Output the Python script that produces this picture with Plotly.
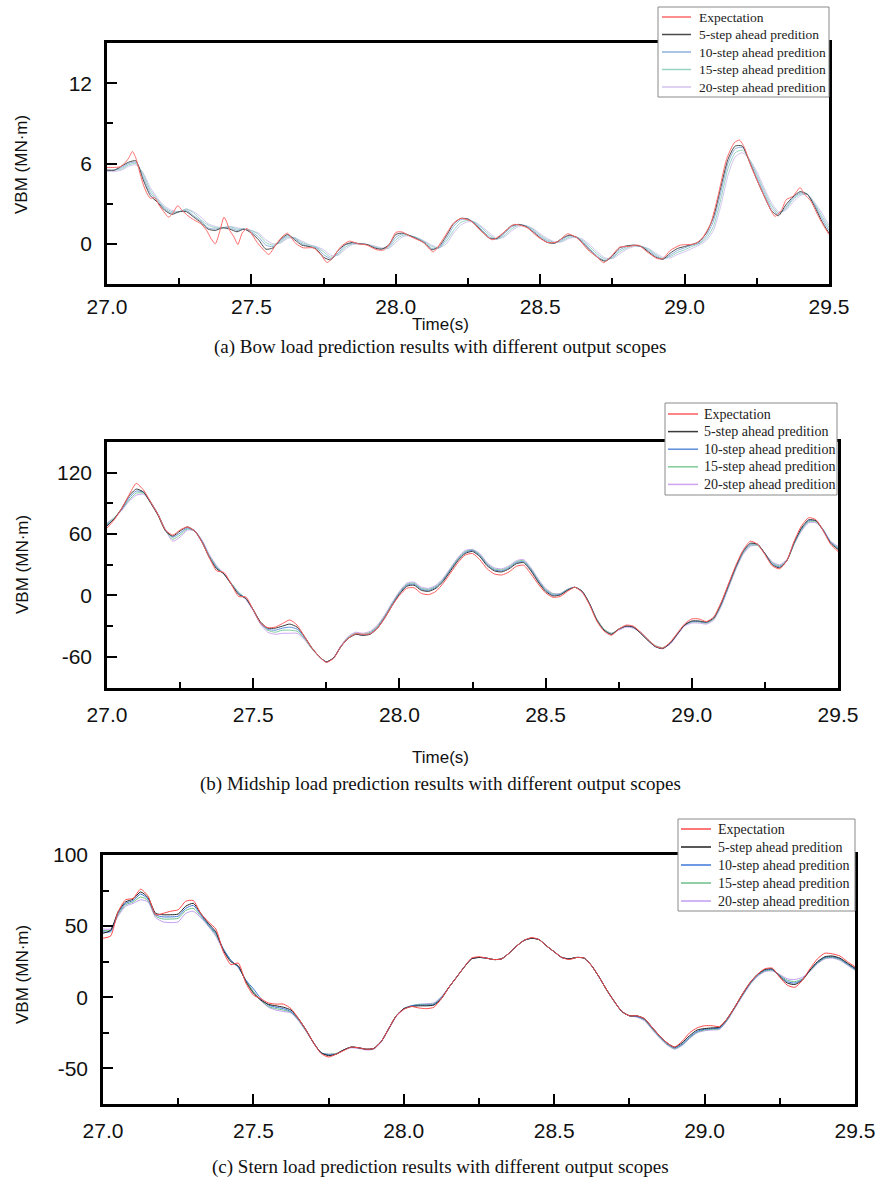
import plotly.graph_objects as go

# ---------------------------------------------------------------------------
# Sample times (s) for the prediction series, 27.0 .. 29.5 every 0.025 s
# ---------------------------------------------------------------------------
t_grid = [round(27.0 + 0.025 * i, 3) for i in range(101)]

series_names = ["Expectation", "5-step ahead predition", "10-step ahead predition",
                "15-step ahead predition", "20-step ahead predition"]

# y tick labels of the three panels (plain hyphen for negatives)
bow_ticks = [0, 6, 12]
mid_ticks = [-60, 0, 60, 120]
stern_ticks = [-50, 0, 50, 100]

# ---------------------------------------------------------------------------
# (a) Bow VBM (MN·m)
# ---------------------------------------------------------------------------
t_bow_exp = [27.000, 27.020, 27.045, 27.060, 27.075, 27.088, 27.100, 27.115, 27.126, 27.140,
             27.150, 27.165, 27.180, 27.200, 27.213, 27.225, 27.245, 27.260, 27.280, 27.300,
             27.325, 27.345, 27.360, 27.375, 27.390, 27.405, 27.415, 27.425, 27.440, 27.453,
             27.468, 27.485, 27.505, 27.520, 27.540, 27.560, 27.575, 27.590, 27.610, 27.625,
             27.640, 27.655, 27.680, 27.715, 27.740, 27.762, 27.785, 27.810, 27.840, 27.870,
             27.900, 27.935, 27.960, 27.980, 28.000, 28.020, 28.050, 28.095, 28.130, 28.165,
             28.200, 28.225, 28.260, 28.295, 28.335, 28.365, 28.410, 28.455, 28.490, 28.525,
             28.560, 28.595, 28.630, 28.665, 28.695, 28.720, 28.745, 28.775, 28.805, 28.840,
             28.870, 28.905, 28.925, 28.950, 28.985, 29.035, 29.060, 29.090, 29.115, 29.145,
             29.172, 29.190, 29.207, 29.230, 29.260, 29.290, 29.313, 29.335, 29.352, 29.375,
             29.400, 29.415, 29.437, 29.460, 29.480, 29.500]
bow_exp = [5.7, 5.7, 5.75, 6.0, 6.4, 6.9, 6.4, 5.2, 4.4, 3.7,
           3.4, 3.45, 2.9, 2.3, 2.0, 2.2, 2.85, 2.5, 2.1, 1.8,
           1.5, 1.0, 0.4, 0.0, 0.9, 2.0, 1.6, 1.0, 0.5, -0.05,
           0.8, 1.15, 0.6, 0.1, -0.4, -0.8, -0.4, 0.1, 0.6, 0.8,
           0.4, 0.0, -0.3, -0.3, -0.8, -1.4, -0.95, -0.2, 0.2, 0.0,
           -0.1, -0.45, -0.45, 0.05, 0.85, 0.9, 0.55, 0.1, -0.6, 0.4,
           1.55, 1.9, 1.7, 0.95, 0.3, 0.7, 1.45, 1.2, 0.55, 0.1,
           0.15, 0.75, 0.4, -0.45, -0.95, -1.4, -0.95, -0.25, -0.2, -0.1,
           -0.6, -1.1, -1.1, -0.5, -0.1, 0.0, 0.4, 1.5, 3.5, 6.3,
           7.55, 7.75, 7.2, 5.8, 4.3, 2.9, 2.05, 2.5, 3.3, 3.55,
           4.2, 3.7, 3.2, 2.2, 1.4, 0.7]
bow_5 = [5.5, 5.5, 5.8, 6.1, 6.2, 4.8, 3.6, 3.1, 2.5, 2.2,
         2.4, 2.4, 2.0, 1.6, 1.1, 1.0, 1.2, 1.1, 0.9, 1.1,
         0.8, 0.3, -0.4, -0.3, 0.3, 0.7, 0.3, -0.1, -0.2, -0.4,
         -1.0, -1.2, -0.5, -0.05, 0.1, 0.0, -0.05, -0.3, -0.4, -0.1,
         0.7, 0.8, 0.6, 0.35, 0.05, -0.45, -0.2, 0.6, 1.5, 1.9,
         1.85, 1.45, 0.9, 0.4, 0.4, 0.85, 1.35, 1.45, 1.3, 0.9,
         0.45, 0.1, 0.05, 0.4, 0.65, 0.5, 0.0, -0.55, -1.05, -1.3,
         -0.9, -0.3, -0.15, -0.1, -0.2, -0.6, -1.0, -1.15, -0.7, -0.35,
         -0.2, -0.05, 0.15, 0.8, 2.0, 4.2, 6.3, 7.3, 7.3, 6.1,
         4.8, 3.6, 2.5, 2.1, 2.9, 3.5, 3.9, 3.7, 2.8, 1.7,
         0.8]
bow_10 = [5.5, 5.5, 5.7, 6.0, 6.1, 5.0, 3.8, 3.2, 2.6, 2.3,
          2.4, 2.5, 2.1, 1.7, 1.2, 1.1, 1.2, 1.2, 1.0, 1.1,
          0.9, 0.5, -0.1, -0.2, 0.2, 0.6, 0.4, 0.0, -0.2, -0.3,
          -0.8, -1.1, -0.7, -0.1, 0.05, 0.0, -0.05, -0.25, -0.4, -0.2,
          0.5, 0.75, 0.6, 0.4, 0.1, -0.35, -0.3, 0.4, 1.3, 1.8,
          1.85, 1.55, 1.0, 0.5, 0.35, 0.75, 1.25, 1.45, 1.35, 1.0,
          0.55, 0.2, 0.05, 0.3, 0.6, 0.5, 0.1, -0.45, -0.95, -1.25,
          -1.0, -0.45, -0.2, -0.1, -0.2, -0.5, -0.9, -1.15, -0.85, -0.5,
          -0.3, -0.1, 0.05, 0.6, 1.7, 3.8, 6.0, 7.1, 7.2, 6.2,
          5.0, 3.8, 2.7, 2.2, 2.7, 3.4, 3.8, 3.7, 2.9, 1.9,
          1.0]
bow_15 = [5.5, 5.5, 5.6, 5.9, 6.0, 5.2, 4.0, 3.3, 2.7, 2.4,
          2.4, 2.6, 2.3, 1.8, 1.4, 1.2, 1.2, 1.3, 1.1, 1.1,
          1.0, 0.7, 0.1, -0.1, 0.1, 0.5, 0.45, 0.1, -0.1, -0.25,
          -0.6, -1.0, -0.8, -0.25, 0.0, 0.0, -0.05, -0.2, -0.35, -0.3,
          0.3, 0.65, 0.6, 0.45, 0.15, -0.2, -0.3, 0.2, 1.0, 1.6,
          1.75, 1.6, 1.15, 0.65, 0.35, 0.6, 1.1, 1.4, 1.35, 1.1,
          0.65, 0.3, 0.1, 0.2, 0.5, 0.5, 0.2, -0.3, -0.8, -1.15,
          -1.05, -0.6, -0.3, -0.15, -0.2, -0.4, -0.8, -1.1, -0.95, -0.65,
          -0.45, -0.2, 0.0, 0.4, 1.3, 3.3, 5.6, 6.8, 7.0, 6.3,
          5.2, 4.0, 2.9, 2.3, 2.6, 3.3, 3.7, 3.7, 3.0, 2.1,
          1.2]
bow_20 = [5.4, 5.4, 5.5, 5.8, 5.9, 5.3, 4.2, 3.4, 2.8, 2.5,
          2.4, 2.6, 2.4, 2.0, 1.5, 1.3, 1.2, 1.3, 1.2, 1.1,
          1.0, 0.8, 0.3, 0.0, 0.05, 0.4, 0.45, 0.2, -0.05, -0.2,
          -0.45, -0.85, -0.85, -0.4, -0.05, 0.0, -0.05, -0.15, -0.3, -0.35,
          0.1, 0.55, 0.6, 0.45, 0.2, -0.1, -0.3, 0.0, 0.8, 1.4,
          1.65, 1.6, 1.25, 0.8, 0.4, 0.5, 0.95, 1.3, 1.35, 1.15,
          0.75, 0.4, 0.15, 0.15, 0.4, 0.5, 0.3, -0.15, -0.65, -1.05,
          -1.1, -0.75, -0.4, -0.2, -0.2, -0.35, -0.7, -1.0, -1.05, -0.8,
          -0.6, -0.35, -0.1, 0.25, 1.0, 2.8, 5.1, 6.5, 6.8, 6.3,
          5.4, 4.2, 3.1, 2.4, 2.5, 3.1, 3.6, 3.7, 3.1, 2.3,
          1.4]

# ---------------------------------------------------------------------------
# (b) Midship VBM (MN·m)
# ---------------------------------------------------------------------------
mid_exp = [66, 74, 85, 98, 109.5, 103, 91, 79, 64, 59,
           64, 67, 63, 52, 37, 24, 22.5, 11, -1, -1.5,
           -14, -27, -31.5, -31, -27.5, -24, -29, -40, -51, -59.5,
           -65.5, -61.5, -50, -42, -37.5, -38, -37.5, -32, -22, -10,
           0, 7, 7.5, 2, 0.8, 4, 12, 22, 32, 39.5,
           41, 35, 26, 21, 20, 23, 28.5, 29.5, 21, 11,
           2.5, -1.8, -1, 4, 8, 3, -9, -25, -35, -39,
           -33, -29, -30, -36, -43, -49.5, -51.5, -46, -37, -28,
           -23, -23, -25.5, -21, -7, 11, 29, 44, 53, 50,
           40, 29, 26, 34, 53, 68, 76, 74, 63, 50,
           43]
mid_5 = [68, 75, 85, 97, 104, 101, 90, 78, 63, 58,
         63, 67, 63, 52, 37, 26, 21, 11, 1, -3,
         -14, -26, -32, -32, -30, -28, -31, -40, -51, -59.5,
         -65, -61, -50, -42, -38, -39, -38, -32, -22, -10,
         1, 9, 10, 5, 4, 7, 14, 24, 34, 41,
         43, 38, 29, 24, 23, 26, 31, 32, 24, 13,
         4, -0.5, 0.5, 5, 8, 4, -8, -24, -34, -38,
         -33, -30, -31, -37, -44, -50, -52, -47, -38, -29,
         -25, -25, -26, -22, -8, 10, 28, 43, 51, 50,
         41, 30, 27, 34, 52, 66, 74, 73, 63, 51,
         45]
mid_10 = [69, 75, 84, 95, 102, 101, 91, 79, 64, 57,
          61, 66, 63, 53, 38, 27, 21, 11, 2, -3,
          -14, -27, -33, -34, -32, -31, -33, -41, -51, -59.5,
          -65, -61, -50, -42, -38, -39, -37, -31, -21, -9,
          2, 10, 11, 6, 5, 8, 15, 25, 35, 42,
          44, 39, 30, 25, 24, 27, 32, 33, 25, 14,
          5, 0.5, 1, 5.5, 8, 4, -8, -24, -34, -38,
          -33, -30, -31, -37, -44, -50, -52, -47, -38, -29,
          -25.5, -25.5, -26.5, -22, -9, 9, 27, 42, 50, 50,
          41, 31, 28, 34, 51, 65, 73, 73, 64, 52,
          46]
mid_15 = [70, 76, 84, 93, 100, 100, 91, 79, 64, 55,
          59, 65, 63, 53, 39, 28, 21, 12, 3, -3,
          -14, -27, -34, -36, -34, -34, -35, -42, -52, -59.5,
          -65, -61, -50, -41, -37, -38, -36, -30, -20, -8,
          3, 11, 12, 7, 6, 9, 16, 26, 36, 43,
          44.5, 40, 31, 26, 25, 28, 33, 34, 26, 15,
          6, 1.5, 1.5, 6, 8, 4, -8, -23, -33, -37,
          -33, -30, -31, -36, -43, -49, -51, -47, -38, -29,
          -26, -26, -27, -23, -10, 8, 26, 41, 49, 49,
          41, 32, 29, 34, 50, 64, 72, 72, 64, 52,
          47]
mid_20 = [71, 76, 83, 92, 98, 99, 91, 79, 64, 53,
          57, 64, 63, 54, 40, 29, 21, 12, 3, -4,
          -15, -28, -36, -38, -37, -37, -37, -43, -52, -59.5,
          -65, -61, -49, -40, -36, -37, -35, -29, -19, -7,
          4, 12, 13, 8, 7, 10, 17, 27, 37, 44,
          45, 41, 32, 27, 26, 29, 34, 35, 27, 16,
          7, 2, 2, 6, 8, 4, -8, -23, -33, -37,
          -34, -31, -32, -36, -43, -49, -51, -48, -39, -30,
          -27, -27, -28, -24, -11, 7, 25, 40, 48, 49,
          41, 33, 30, 35, 50, 63, 71, 71, 64, 53,
          48]

# ---------------------------------------------------------------------------
# (c) Stern VBM (MN·m)
# ---------------------------------------------------------------------------
stern_exp = [41.5, 43, 60, 68.5, 69.5, 76, 71, 58, 59, 60.5,
             61.5, 67.5, 68, 59, 53, 48, 32, 23, 24, 10,
             1.5, -1, -4, -4.8, -4.8, -8, -15, -23, -32, -39.5,
             -42, -40, -37.5, -35, -35.5, -36.5, -36, -31, -22, -13,
             -8.5, -6.5, -7.5, -8, -7, -1, 7, 14, 21, 27.5,
             28.5, 27.5, 26.5, 27, 31, 36, 40, 42, 40.5, 36,
             32, 28, 26.5, 28, 27.5, 22, 14, 5, -3, -10,
             -13, -13, -15, -21, -27, -32, -35, -31, -25, -21.5,
             -20, -20, -20.5, -15, -7, 2, 10, 16, 20, 20.5,
             14, 8.5, 7, 12, 20, 27, 31, 30.5, 29, 25,
             21.5]
stern_5 = [45, 47, 60, 67, 69, 74, 70, 59, 58, 58,
           58.5, 64, 66, 59, 52, 46, 33, 25, 22, 11,
           3, -2, -5, -6, -7, -9, -15, -23, -32, -39,
           -41, -40, -37, -35, -35.5, -36.5, -36, -31, -22, -13,
           -8, -6.5, -6, -6, -5.5, -1, 7, 14, 21, 27,
           28, 27.5, 26.5, 27, 31, 36, 40, 41.5, 40.5, 36,
           32, 28, 27, 28, 27.5, 22, 14, 5, -3, -10,
           -13, -13, -15, -21, -27, -32, -35, -32, -27, -23,
           -22, -21.5, -21, -15, -7, 2, 10, 16, 19.5, 20,
           14.5, 10, 9, 12, 19, 25, 28.5, 29, 27.5, 24,
           20.5]
stern_10 = [46, 46, 59, 66, 68, 72.5, 69, 58, 56.5, 56.5,
            57, 62.5, 64.5, 58, 51, 45, 34, 26, 21, 12,
            6, -1, -5.5, -7, -8, -10, -15.5, -23, -32, -39,
            -40.5, -40, -37, -35, -35.5, -36.5, -36, -31, -22, -13,
            -8, -6, -5.5, -5.5, -5, -0.5, 7, 14, 21, 27,
            28, 27.5, 26.5, 27, 31, 36, 40, 41.5, 40.5, 36,
            32, 28, 27, 28, 27.5, 22, 14, 5, -3, -10,
            -13, -13.5, -15.5, -21.5, -27.5, -32.5, -35.5, -33, -28, -24,
            -22.5, -22, -21.5, -15.5, -7, 1.5, 9.5, 15.5, 19, 19.5,
            15, 11, 10, 12.5, 19, 24.5, 28, 28.5, 27, 23.5,
            20]
stern_15 = [47, 47, 58, 65, 67, 70.5, 68, 57, 55, 55,
            55.5, 61, 62.5, 57, 50.5, 44, 34, 26, 21, 12,
            4, -2, -6.5, -8, -9, -10.5, -16, -23.5, -32, -39,
            -40, -39.5, -37, -35, -35.5, -36.5, -36, -31, -22, -13,
            -8, -6, -5, -5, -4.5, 0, 7, 14, 21, 27,
            28, 27.5, 26.5, 27, 31, 36, 40, 41.5, 40.5, 36,
            32, 28, 27, 28, 27.5, 22, 14, 5, -3, -10,
            -13, -13.5, -16, -22, -28, -33, -36, -33.5, -28.5, -24.5,
            -23, -22.5, -22, -16, -7.5, 1, 9, 15, 18.5, 19,
            15.5, 12, 11, 13, 18.5, 24, 27.5, 28, 26.5, 23,
            19.5]
stern_20 = [48, 48, 57, 64, 66, 68.5, 67, 56, 53, 52.5,
            53, 59, 60.5, 56, 50, 43, 33, 26, 21, 12,
            4, -2.5, -7, -9, -10, -11, -16.5, -24, -32, -39,
            -40, -39.5, -37, -35.5, -36, -37, -36.5, -31.5, -22.5, -13.5,
            -8.5, -6, -5, -4.5, -4, 0.5, 7, 14, 21, 27,
            28, 27.5, 26.5, 27, 31, 36, 40, 41.5, 40.5, 36,
            32, 28, 27, 28, 27.5, 22, 14, 5, -3, -10,
            -13, -14, -16.5, -22.5, -28.5, -33.5, -36.5, -34, -29, -25,
            -23.5, -23, -22.5, -16.5, -8, 0.5, 8.5, 14.5, 18, 18.5,
            16, 13, 12.5, 14, 18, 23.5, 27, 27.5, 26, 22.5,
            19]

# ---------------------------------------------------------------------------
# Layout helpers (pixel positions converted to paper fractions)
# ---------------------------------------------------------------------------
W, H = 877, 1187


def px(x):
    return x / W


def py(y):
    return 1 - y / H


panels = [
    dict(t_exp=t_bow_exp, exp=bow_exp, preds=[bow_5, bow_10, bow_15, bow_20],
         box=(107, 829, 43, 284), yrange=[-3, 15], dtick=6, yticks=bow_ticks, standoff=2,
         colors=["#ff6a6a", "#4a4a4a", "#8eb1dc", "#97d3c2", "#d3c3ef"],
         key_box=(658, 829, 7, 97), key_rows=(17, 17.5), key_line=(662, 691),
         key_text=697, key_size=13.5),
    dict(t_exp=t_grid, exp=mid_exp, preds=[mid_5, mid_10, mid_15, mid_20],
         box=(107, 838, 442, 687.5), yrange=[-90, 150], dtick=60, yticks=mid_ticks, standoff=7,
         colors=["#ff5c5c", "#3a3a3a", "#5d8fdc", "#7fcc98", "#cfa3f2"],
         key_box=(665, 837, 403, 495), key_rows=(414, 17.6), key_line=(668, 698),
         key_text=702, key_size=14),
    dict(t_exp=t_grid, exp=stern_exp, preds=[stern_5, stern_10, stern_15, stern_20],
         box=(103, 855, 855, 1104), yrange=[-75, 100], dtick=50, yticks=stern_ticks, standoff=6,
         colors=["#ff4a4a", "#202020", "#3c78d8", "#6cc08a", "#c29cf2"],
         key_box=(678, 855, 819, 911), key_rows=(829, 18), key_line=(681, 711),
         key_text=716, key_size=14),
]

fig = go.Figure()
layout_updates = {}
shapes = []
annotations = []

for k, p in enumerate(panels, start=1):
    xa = "x" if k == 1 else f"x{k}"
    ya = "y" if k == 1 else f"y{k}"
    l, r, top, bot = p["box"]
    cols = p["colors"]

    # predictions: longest horizon first so the shorter ones sit on top
    for j in (3, 2, 1, 0):
        fig.add_trace(go.Scatter(
            x=t_grid, y=p["preds"][j], mode="lines", name=series_names[j + 1],
            line=dict(color=cols[j + 1], width=1, shape="spline", smoothing=0.6),
            xaxis=xa, yaxis=ya, showlegend=False))
    fig.add_trace(go.Scatter(
        x=p["t_exp"], y=p["exp"], mode="lines", name=series_names[0],
        line=dict(color=cols[0], width=1, shape="spline", smoothing=0.6),
        xaxis=xa, yaxis=ya, showlegend=False))

    axis_common = dict(showline=True, mirror=True, linecolor="black", linewidth=2.5,
                       showgrid=False, zeroline=False, ticks="inside", ticklen=10,
                       tickwidth=2, tickcolor="black", automargin=False,
                       tickfont=dict(family="Liberation Sans", size=21, color="#111"))
    xkey = "xaxis" if k == 1 else f"xaxis{k}"
    ykey = "yaxis" if k == 1 else f"yaxis{k}"
    layout_updates[xkey] = dict(axis_common, domain=[px(l), px(r)], range=[27.0, 29.5],
                                tickmode="linear", tick0=27.0, dtick=0.5, tickformat=".1f",
                                anchor=ya, ticklabelstandoff=p["standoff"],
                                minor=dict(ticks="inside", ticklen=6, tickwidth=2,
                                           tickcolor="black", dtick=0.25, tick0=27.0,
                                           showgrid=False))
    layout_updates[ykey] = dict(axis_common, domain=[py(bot), py(top)], range=p["yrange"],
                                tickmode="array", tickvals=p["yticks"],
                                ticktext=[str(v) for v in p["yticks"]],
                                anchor=xa, ticklabelstandoff=8,
                                minor=dict(ticks="inside", ticklen=6, tickwidth=2,
                                           tickcolor="black", tickmode="linear",
                                           dtick=p["dtick"] / 2, tick0=0,
                                           showgrid=False))

    # key box with a short line sample and label for every series
    bx0, bx1, by0, by1 = p["key_box"]
    shapes.append(dict(type="rect", xref="paper", yref="paper",
                       x0=px(bx0), x1=px(bx1), y0=py(by1), y1=py(by0),
                       fillcolor="white", line=dict(color="#8a8a8a", width=1),
                       layer="above"))
    row0, step = p["key_rows"]
    lx0, lx1 = p["key_line"]
    for i, name in enumerate(series_names):
        yy = row0 + i * step
        shapes.append(dict(type="line", xref="paper", yref="paper",
                           x0=px(lx0), x1=px(lx1), y0=py(yy), y1=py(yy),
                           line=dict(color=cols[i], width=1.5), layer="above"))
        annotations.append(dict(text=name, x=px(p["key_text"]), y=py(yy),
                                xref="paper", yref="paper", xanchor="left",
                                yanchor="middle", showarrow=False,
                                font=dict(family="Liberation Serif", size=p["key_size"],
                                          color="#222")))

fig.update_layout(**layout_updates)

# y-axis titles
for yc in (165, 565, 975):
    annotations.append(dict(text="VBM (MN·m)", x=px(22), y=py(yc), xref="paper", yref="paper",
                            xanchor="center", yanchor="middle",
                            showarrow=False, textangle=-90,
                            font=dict(family="Liberation Sans", size=17, color="#111")))
# x-axis titles
for yc in (324, 757):
    annotations.append(dict(text="Time(s)", x=px(440), y=py(yc), xref="paper", yref="paper",
                            xanchor="center", yanchor="middle", showarrow=False,
                            font=dict(family="Liberation Sans", size=17, color="#111")))
# panel captions
captions = [
    ("(a) Bow load prediction results with different output scopes", 347),
    ("(b) Midship load prediction results with different output scopes", 784),
    ("(c) Stern load prediction results with different output scopes", 1167),
]
for txt, yc in captions:
    annotations.append(dict(text=txt, x=px(440), y=py(yc), xref="paper", yref="paper",
                            xanchor="center", yanchor="middle", showarrow=False,
                            font=dict(family="Liberation Serif", size=19, color="#111")))

fig.update_layout(
    width=W, height=H, margin=dict(l=0, r=0, t=0, b=0),
    paper_bgcolor="white", plot_bgcolor="white",
    shapes=shapes, annotations=annotations, showlegend=False,
)

fig.write_html("out.html")
